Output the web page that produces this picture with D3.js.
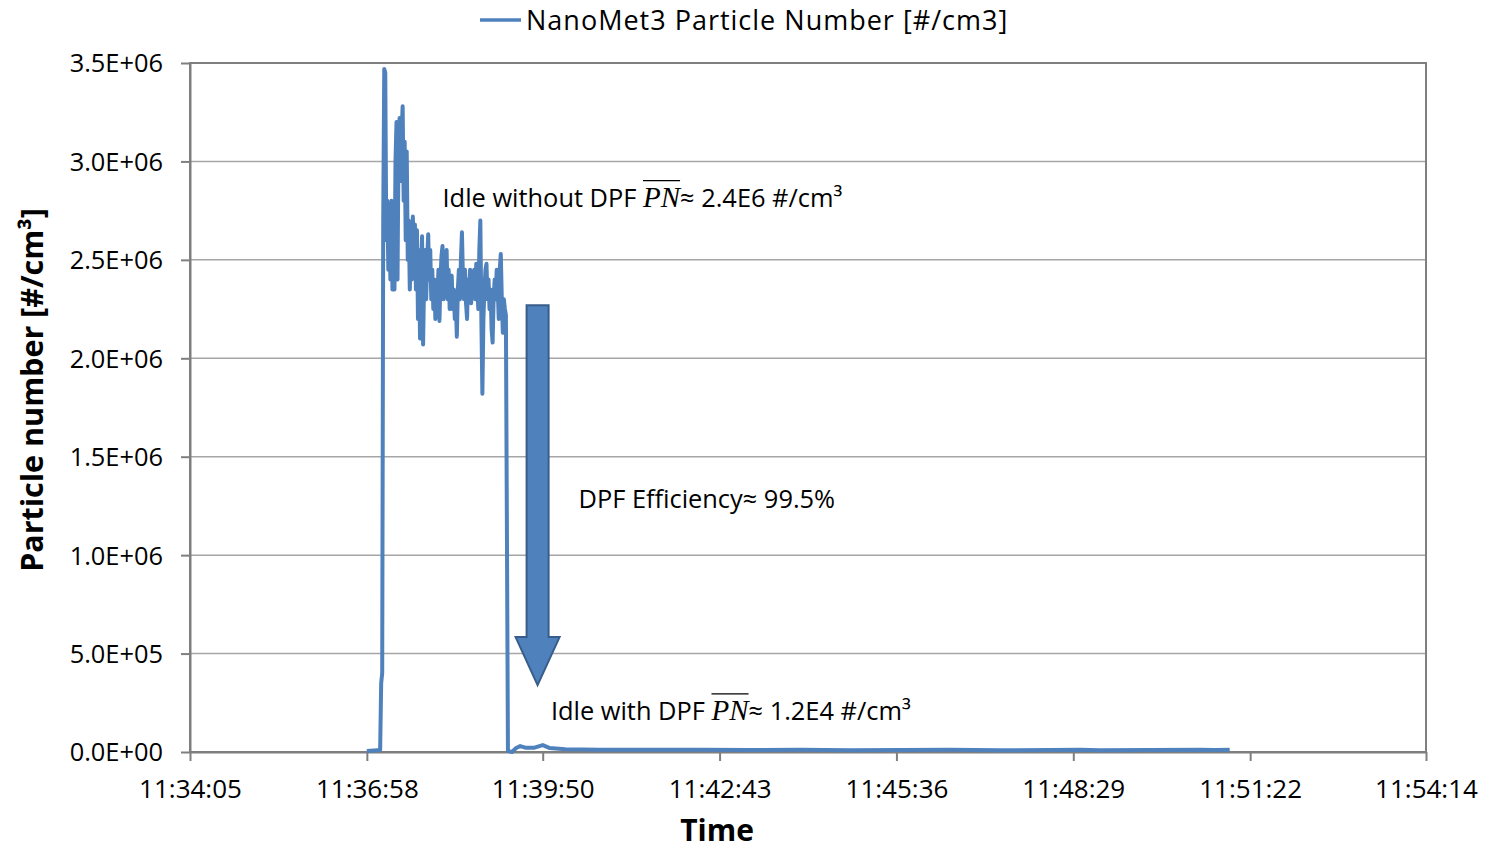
<!DOCTYPE html>
<html>
<head>
<meta charset="utf-8">
<script src="https://cdn.jsdelivr.net/npm/d3@7"></script>
<style>
  body { margin: 0; background: #fff; }
  text { font-family: "Open Sans", sans-serif; fill: #000; }
</style>
</head>
<body>
<svg id="chart" width="1487" height="849"></svg>
<script>
// tick labels
const xTickLabels = ["11:34:05", "11:36:58", "11:39:50", "11:42:43", "11:45:36", "11:48:29", "11:51:22", "11:54:14"];
const yTickValues = [0, 5e5, 1e6, 1.5e6, 2e6, 2.5e6, 3e6, 3.5e6];
const yTickLabels = ["0.0E+00", "5.0E+05", "1.0E+06", "1.5E+06", "2.0E+06", "2.5E+06", "3.0E+06", "3.5E+06"];

// NanoMet3 particle number, values in millions of #/cm3
const preTimes = ["11:36:58", "11:37:05"];
const preValuesM = [0.005, 0.008];

// logged every second from spikeStart
const spikeStart = "11:37:11";
const spikeValuesM = [
  0.01, 0.35, 0.40, 2.70, 3.47, 3.45, 2.60, 2.80, 2.45, 2.75,
  2.40, 2.80, 2.35, 2.65, 2.35, 3.00, 3.20, 2.40, 3.10, 3.22,
  2.90, 3.15, 3.28, 2.80, 3.10, 2.60, 3.05, 2.50, 2.70, 2.35,
  2.55, 2.40, 2.72, 2.50, 2.68, 2.35, 2.65, 2.20, 2.55, 2.10,
  2.45, 2.62, 2.07, 2.40, 2.55, 2.30, 2.50, 2.63, 2.40, 2.55,
  2.30, 2.45, 2.25, 2.40, 2.20, 2.35, 2.30, 2.45, 2.19, 2.40,
  2.52, 2.57, 2.30, 2.50, 2.35, 2.55, 2.30, 2.45, 2.25, 2.40,
  2.42, 2.25, 2.35, 2.20, 2.30, 2.11, 2.35, 2.45, 2.30, 2.50,
  2.64, 2.40, 2.30, 2.45, 2.28, 2.20, 2.40, 2.32, 2.45, 2.28,
  2.40, 2.35, 2.45, 2.30, 2.48, 2.38, 2.25, 2.55, 2.70, 2.20,
  1.82, 2.20, 2.35, 2.45, 2.48, 2.30, 2.40, 2.25, 2.35, 2.15,
  2.08, 2.30, 2.40, 2.30, 2.45, 2.35, 2.20, 2.45, 2.53, 2.30,
  2.13, 2.30, 2.25, 2.22
];

const tailTimes = ["11:39:16", "11:39:20", "11:39:24", "11:39:28", "11:39:33", "11:39:42", "11:39:50", "11:39:57",
  "11:40:12", "11:40:46", "11:41:35", "11:42:24", "11:43:13", "11:44:02", "11:44:51", "11:45:40",
  "11:46:28", "11:47:17", "11:48:06", "11:48:36", "11:48:55", "11:49:44", "11:50:33", "11:50:48", "11:51:02"];
const tailValuesM = [0.005, 0.0, 0.02, 0.03, 0.022, 0.022, 0.035, 0.02,
  0.014, 0.012, 0.011, 0.012, 0.010, 0.011, 0.009, 0.010,
  0.011, 0.009, 0.010, 0.011, 0.009, 0.010, 0.012, 0.010, 0.012];

// annotations (time, value)
const notes = [
  {time: "11:38:12", value: 2.77e6, pre: "Idle without DPF ", post: "\u2248 2.4E6 #/cm\u00b3"},
  {time: "11:40:25", value: 1.24e6, pre: "DPF Efficiency\u2248 99.5%", post: null},
  {time: "11:39:58", value: 0.163e6, pre: "Idle with DPF ", post: "\u2248 1.2E4 #/cm\u00b3"}
];
const arrowTime = "11:39:45";
const arrowFrom = 2.27e6;
const arrowTo = 0.34e6;

const toSec = s => { let [h, m, c] = s.split(":").map(Number); return h * 3600 + m * 60 + c; };

// build series
let series = [];
preTimes.forEach((t, i) => series.push({t: toSec(t), v: preValuesM[i] * 1e6}));
spikeValuesM.forEach((v, i) => series.push({t: toSec(spikeStart) + i, v: v * 1e6}));
tailTimes.forEach((t, i) => series.push({t: toSec(t), v: tailValuesM[i] * 1e6}));

const svg = d3.select("#chart");
const margin = {left: 190, right: 61, top: 63, bottom: 97};
const width = 1487 - margin.left - margin.right;
const height = 849 - margin.top - margin.bottom;

const x = d3.scaleLinear()
    .domain([toSec(xTickLabels[0]), toSec(xTickLabels[xTickLabels.length - 1])])
    .range([0, width]);
const y = d3.scaleLinear().domain([0, 3.5e6]).range([height, 0]);

const g = svg.append("g").attr("transform", "translate(" + margin.left + "," + margin.top + ")");

// gridlines
g.selectAll(".grid").data(yTickValues.slice(1))
    .enter().append("line")
    .attr("x1", 0).attr("x2", width)
    .attr("y1", d => y(d)).attr("y2", d => y(d))
    .style("stroke", "#a6a6a6").style("stroke-width", 1.5);

// plot border
g.append("rect").attr("width", width).attr("height", height)
    .style("fill", "none").style("stroke", "#7f7f7f").style("stroke-width", 2);

// axes
let xAxis = g.append("g")
    .attr("transform", "translate(0," + height + ")")
    .call(d3.axisBottom(x).tickValues(xTickLabels.map(toSec))
        .tickFormat((d, i) => xTickLabels[i]).tickSizeInner(9).tickSizeOuter(0).tickPadding(14));
let yAxis = g.append("g")
    .call(d3.axisLeft(y).tickValues(yTickValues)
        .tickFormat((d, i) => yTickLabels[i]).tickSizeInner(9).tickSizeOuter(0).tickPadding(18));
[xAxis, yAxis].forEach(a => {
    a.select(".domain").style("stroke", "#7f7f7f").style("stroke-width", 2);
    a.selectAll(".tick line").style("stroke", "#7f7f7f").style("stroke-width", 2);
    a.selectAll(".tick text").style("font-family", "Open Sans").style("fill", "#000");
});
xAxis.selectAll(".tick text").attr("dy", "0.9em").style("font-size", "26px");
yAxis.selectAll(".tick text").attr("dy", "0.35em").style("font-size", "25.4px");

// data line
let line = d3.line().x(d => x(d.t)).y(d => y(d.v));
g.append("path").datum(series)
    .attr("d", line)
    .style("fill", "none")
    .style("stroke", "#4f81bd")
    .style("stroke-width", 4)
    .style("stroke-linejoin", "round");

// block arrow
let ax = x(toSec(arrowTime)), ay0 = y(arrowFrom), ay1 = y(arrowTo);
let shaftW = 11, headW = 22, headL = 48;
g.append("path")
    .attr("d", d3.line()([
        [ax - shaftW, ay0], [ax + shaftW, ay0], [ax + shaftW, ay1 - headL], [ax + headW, ay1 - headL],
        [ax, ay1], [ax - headW, ay1 - headL], [ax - shaftW, ay1 - headL]]) + "Z")
    .style("fill", "#4f81bd").style("stroke", "#385d8a").style("stroke-width", 2);

// annotations with overlined italic PN
notes.forEach(n => {
    let t = g.append("text")
        .attr("x", x(toSec(n.time))).attr("y", y(n.value))
        .style("font-size", "25.4px");
    t.append("tspan").text(n.pre);
    if (!n.post) return;
    let pn = t.append("tspan").text("PN")
        .style("font-family", "'Liberation Serif', serif").style("font-style", "italic").style("font-size", "29px");
    t.append("tspan").text(n.post);
    let startX = x(toSec(n.time)) + t.node().getSubStringLength(0, n.pre.length);
    let pnW = pn.node().getComputedTextLength();
    g.append("line")
        .attr("x1", startX).attr("x2", startX + pnW)
        .attr("y1", y(n.value) - 26).attr("y2", y(n.value) - 26)
        .style("stroke", "#000").style("stroke-width", 1.3);
});

// axis titles
svg.append("text")
    .attr("x", 717).attr("y", 841)
    .style("text-anchor", "middle").style("font-weight", "bold").style("font-size", "30px")
    .text("Time");
svg.append("text")
    .attr("transform", "rotate(-90)")
    .attr("x", -390).attr("y", 43)
    .style("text-anchor", "middle").style("font-weight", "bold").style("font-size", "30.5px")
    .text("Particle number [#/cm\u00b3]");

// legend
svg.append("line").attr("x1", 480).attr("x2", 521).attr("y1", 20).attr("y2", 20)
    .style("stroke", "#4f81bd").style("stroke-width", 3.5);
svg.append("text").attr("x", 526).attr("y", 30)
    .style("font-size", "27px").style("letter-spacing", "1px")
    .text("NanoMet3 Particle Number [#/cm3]");
</script>
</body>
</html>
